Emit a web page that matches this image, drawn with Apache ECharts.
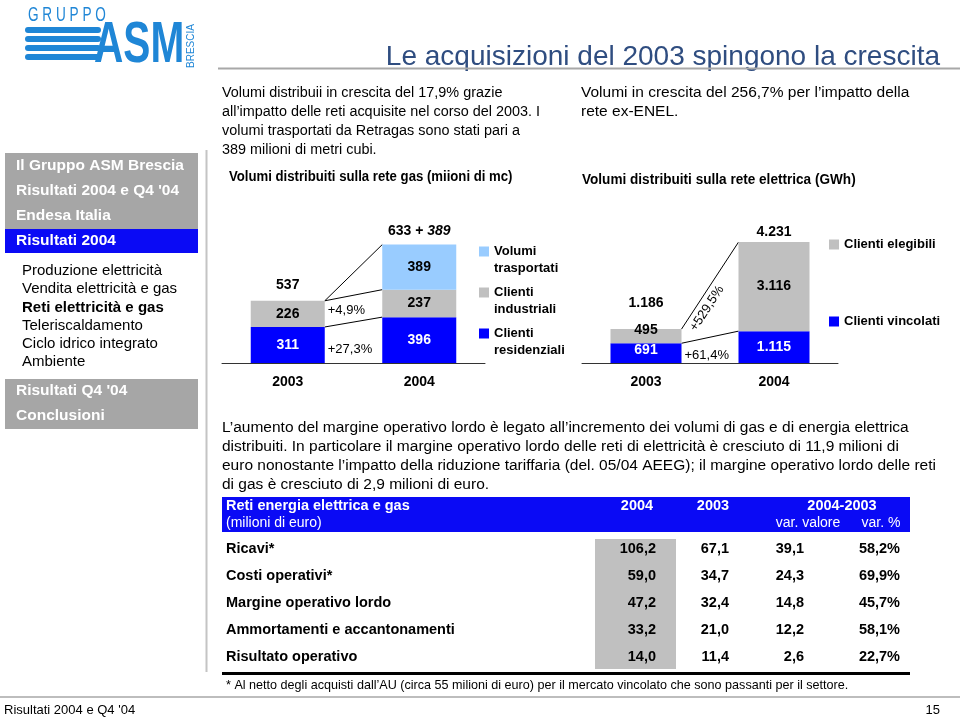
<!DOCTYPE html>
<html>
<head>
<meta charset="utf-8">
<script src="https://cdn.jsdelivr.net/npm/echarts@6/dist/echarts.min.js"></script>
<style>html,body{margin:0;padding:0;background:#fff}#chart{width:960px;height:717px}</style>
</head>
<body>
<div id="chart"></div>
<script>
// ---------- data ----------
const gasCategories = ['2003', '2004'];
const gasResidenziali = [311, 396];
const gasIndustriali = [226, 237];
const gasTrasportati = [null, 389];
const gasGrowth = ['+4,9%', '+27,3%'];

const elecCategories = ['2003', '2004'];
const elecVincolati = [691, 1115];
const elecElegibili = [495, 3116];
const elecGrowth = ['+529,5%', '+61,4%'];

const tableRows = ['Ricavi*', 'Costi operativi*', 'Margine operativo lordo', 'Ammortamenti e accantonamenti', 'Risultato operativo'];
const table2004 = [106.2, 59.0, 47.2, 33.2, 14.0];
const table2003 = [67.1, 34.7, 32.4, 21.0, 11.4];
const tableVarVal = [39.1, 24.3, 14.8, 12.2, 2.6];
const tableVarPct = [58.2, 69.9, 45.7, 58.1, 22.7];

const navTop = ['Il Gruppo ASM Brescia', 'Risultati 2004 e Q4 \'04', 'Endesa Italia'];
const navActive = 'Risultati 2004';
const navItems = ['Produzione elettricità', 'Vendita elettricità e gas', 'Reti elettricità e gas', 'Teleriscaldamento', 'Ciclo idrico integrato', 'Ambiente'];
const navBottom = ['Risultati Q4 \'04', 'Conclusioni'];

// ---------- style ----------
const A = "'Liberation Sans',Arial,sans-serif";
const N = A;
const BLUE = '#0000ff', GRAY = '#c0c0c0', LBLUE = '#99ccff';
const fmtK = v => String(v).replace(/\B(?=(\d{3})+(?!\d))/g, '.');
const fmtD = v => v.toFixed(1).replace('.', ',');

const chart = echarts.init(document.getElementById('chart'));

const segLabel = (color) => ({
  show: true, position: 'inside', color: color, fontFamily: A, fontWeight: 'bold', fontSize: 14,
  formatter: p => (p.value == null ? '' : fmtK(p.value))
});

const option = {
  animation: false,
  grid: [
    { left: 222, top: 224, width: 263, height: 139 },
    { left: 582, top: 223, width: 256, height: 140 }
  ],
  xAxis: [
    { type: 'category', gridIndex: 0, data: gasCategories,
      axisLine: { lineStyle: { color: '#333' } }, axisTick: { lineStyle: { color: '#333' }, length: 5 },
      axisLabel: { color: '#000', fontFamily: A, fontWeight: 'bold', fontSize: 14, margin: 12 } },
    { type: 'category', gridIndex: 1, data: elecCategories,
      axisLine: { lineStyle: { color: '#333' } }, axisTick: { lineStyle: { color: '#333' }, length: 5 },
      axisLabel: { color: '#000', fontFamily: A, fontWeight: 'bold', fontSize: 14, margin: 12 } }
  ],
  yAxis: [
    { type: 'value', gridIndex: 0, min: 0, max: 1200, show: false },
    { type: 'value', gridIndex: 1, min: 0, max: 4900, show: false }
  ],
  legend: [
    { data: ['Volumi trasportati', 'Clienti industriali', 'Clienti residenziali'],
      orient: 'vertical', left: 479, top: 226, itemWidth: 10, itemHeight: 10, itemGap: -10,
      icon: 'rect', selectedMode: false, padding: 0,
      formatter: n => ' \n' + n.replace(' ', '\n'),
      textStyle: { fontFamily: N, fontWeight: 'bold', fontSize: 13, lineHeight: 17, color: '#000' } },
    { data: ['Clienti elegibili', 'Clienti vincolati'],
      orient: 'vertical', left: 829, top: 238, itemWidth: 10, itemHeight: 10, itemGap: 64,
      icon: 'rect', selectedMode: false, padding: 0,
      textStyle: { fontFamily: N, fontWeight: 'bold', fontSize: 13, color: '#000' } }
  ],
  series: [
    { name: 'Clienti residenziali', type: 'bar', stack: 'gas', xAxisIndex: 0, yAxisIndex: 0, barWidth: 74,
      data: gasResidenziali, itemStyle: { color: BLUE }, label: segLabel('#fff') },
    { name: 'Clienti industriali', type: 'bar', stack: 'gas', xAxisIndex: 0, yAxisIndex: 0, barWidth: 74,
      data: gasIndustriali, itemStyle: { color: GRAY }, label: segLabel('#000') },
    { name: 'Volumi trasportati', type: 'bar', stack: 'gas', xAxisIndex: 0, yAxisIndex: 0, barWidth: 74,
      data: gasTrasportati, itemStyle: { color: LBLUE }, label: segLabel('#000') },
    { name: 'Clienti vincolati', type: 'bar', stack: 'el', xAxisIndex: 1, yAxisIndex: 1, barWidth: 71,
      data: elecVincolati.map((v, i) => i === 0 ? { value: v, label: { offset: [0, -3] } } : v),
      itemStyle: { color: BLUE }, label: segLabel('#fff') },
    { name: 'Clienti elegibili', type: 'bar', stack: 'el', xAxisIndex: 1, yAxisIndex: 1, barWidth: 71,
      data: elecElegibili.map((v, i) => i === 0 ? { value: v, label: { offset: [0, -6] } } : v),
      itemStyle: { color: GRAY }, label: segLabel('#000') }
  ]
};
chart.setOption(option);

// ---------- graphics ----------
const G = [];
const rect = (x, y, w, h, fill) => G.push({ type: 'rect', shape: { x, y, width: w, height: h }, style: { fill }, silent: true });
const line = (x1, y1, x2, y2, stroke, lw) => G.push({ type: 'line', shape: { x1, y1, x2, y2 }, style: { stroke, lineWidth: lw || 1 }, silent: true });
const text = (t, x, y, font, fill, align, extra) => G.push(Object.assign({ type: 'text', x, y,
  style: { text: t, font, fill: fill || '#000', textAlign: align || 'left', align: align || 'left', textVerticalAlign: 'middle', verticalAlign: 'middle' }, silent: true }, extra || {}));

// logo
const LC = '#1f86d6';
text('G R U P P O', 28, 15, '20px ' + A, LC, 'left', { scaleX: 0.68 });
[27, 36, 45, 54].forEach(y => G.push({ type: 'rect', shape: { x: 25, y: y, width: 76, height: 6, r: 3 }, style: { fill: LC }, silent: true }));
text('ASM', 94, 46, 'bold 58px ' + A, LC, 'left', { scaleX: 0.7 });
text('BRESCIA', 191, 46, '10px ' + A, LC, 'center', { rotation: Math.PI / 2 });

// title
text('Le acquisizioni del 2003 spingono la crescita', 940, 57, '28px ' + N, '#2f4d80', 'right');
line(218, 68.5, 960, 68.5, '#a8a8a8', 2);

// left nav
rect(5, 153, 193, 76, '#a6a6a6');
rect(5, 229, 193, 24, '#0a0af5');
rect(5, 379, 193, 50, '#a6a6a6');
navTop.forEach((t, i) => text(t, 16, [166, 191, 216][i], 'bold 15.5px ' + A, '#fff'));
text(navActive, 16, 241, 'bold 15.5px ' + A, '#fff');
navItems.forEach((t, i) => text(t, 22, 271 + i * 18.2, (t === 'Reti elettricità e gas' ? 'bold ' : '') + '15px ' + A, '#000'));
navBottom.forEach((t, i) => text(t, 16, 391 + i * 25, 'bold 15.5px ' + A, '#fff'));
line(206.5, 150, 206.5, 672, '#c4c4c4', 2);

// paragraphs
['Volumi distribuii in crescita del 17,9% grazie',
 'all’impatto delle reti acquisite nel corso del 2003. I',
 'volumi trasportati da Retragas sono stati pari a',
 '389 milioni di metri cubi.'].forEach((t, i) => text(t, 222, 93 + i * 19, '15.5px ' + N, '#000', 'left', { scaleX: 0.93 }));
['Volumi in crescita del 256,7% per l’impatto della', 'rete ex-ENEL.'].forEach((t, i) => text(t, 581, 93 + i * 19, '15.5px ' + N));
text('Volumi distribuiti sulla rete gas (miioni di mc)', 229, 177, 'bold 14px ' + N, '#000', 'left', { scaleX: 0.94 });
text('Volumi distribuiti sulla rete elettrica (GWh)', 582, 180, 'bold 14px ' + N, '#000', 'left', { scaleX: 0.97 });

['L’aumento del margine operativo lordo è legato all’incremento dei volumi di gas e di energia elettrica',
 'distribuiti. In particolare il margine operativo lordo delle reti di elettricità è cresciuto di 11,9 milioni di',
 'euro nonostante l’impatto della riduzione tariffaria (del. 05/04 AEEG); il margine operativo lordo delle reti',
 'di gas è cresciuto di 2,9 milioni di euro.'].forEach((t, i) => text(t, 222, 428 + i * 19, '15.5px ' + N));

// table
rect(222, 497, 688, 35, '#0a0af5');
text('Reti energia elettrica e gas', 226, 506, 'bold 14.5px ' + N, '#fff');
text('(milioni di euro)', 226, 523, '14px ' + N, '#fff');
text('2004', 637, 506, 'bold 14.5px ' + N, '#fff', 'center');
text('2003', 713, 506, 'bold 14.5px ' + N, '#fff', 'center');
text('2004-2003', 842, 506, 'bold 14.5px ' + N, '#fff', 'center');
text('var. valore', 808, 523, '14px ' + N, '#fff', 'center');
text('var. %', 881, 523, '14px ' + N, '#fff', 'center');
rect(595, 539, 81, 130, '#c0c0c0');
tableRows.forEach((t, i) => {
  const y = 549 + i * 27;
  const f = 'bold 14.5px ' + N;
  text(t, 226, y, f);
  text(fmtD(table2004[i]), 656, y, f, '#000', 'right');
  text(fmtD(table2003[i]), 729, y, f, '#000', 'right');
  text(fmtD(tableVarVal[i]), 804, y, f, '#000', 'right');
  text(fmtD(tableVarPct[i]) + '%', 900, y, f, '#000', 'right');
});
line(222, 673.5, 910, 673.5, '#000', 3);
text('* Al netto degli acquisti dall’AU (circa 55 milioni di euro) per il mercato vincolato che sono passanti per il settore.', 226, 686, '12.6px ' + N);
line(0, 697, 960, 697, '#bdbdbd', 2);
text('Risultati 2004 e Q4 \'04', 4, 710, '13px ' + N);
text('15', 940, 710, '13px ' + N, '#000', 'right');

// chart annotations computed from the axes
const px = (g, cat, v) => chart.convertToPixel({ gridIndex: g }, [cat, v]);
const NUM = 'bold 14px ' + A;
// gas
{
  const bw = 74;
  const tot = gasCategories.map((c, i) => gasResidenziali[i] + gasIndustriali[i] + (gasTrasportati[i] || 0));
  const ri = gasCategories.map((c, i) => gasResidenziali[i] + gasIndustriali[i]);
  const a = px(0, gasCategories[0], 0), b = px(0, gasCategories[1], 0);
  const xr = a[0] + bw / 2, xl = b[0] - bw / 2;
  const y = (c, v) => px(0, c, v)[1];
  line(xr, y('2003', tot[0]), xl, y('2004', tot[1]), '#000', 1);
  line(xr, y('2003', ri[0]), xl, y('2004', ri[1]), '#000', 1);
  line(xr, y('2003', gasResidenziali[0]), xl, y('2004', gasResidenziali[1]), '#000', 1);
  text(fmtK(tot[0]), a[0], y('2003', tot[0]) - 16, NUM, '#000', 'center');
  G.push({ type: 'text', x: b[0], y: y('2004', tot[1]) - 13, silent: true,
    style: { text: '{a|' + fmtK(ri[1]) + ' + }{b|' + fmtK(gasTrasportati[1]) + '}', textAlign: 'center', align: 'center', textVerticalAlign: 'middle', verticalAlign: 'middle',
      rich: { a: { font: NUM, fill: '#000' }, b: { font: 'italic bold 14px ' + A, fill: '#000' } } } });
  const midInd = (y('2003', gasResidenziali[0]) + y('2003', ri[0])) / 2;
  const midRes = (y('2003', 0) + y('2003', gasResidenziali[0])) / 2;
  text(gasGrowth[0], xr + 3, midInd - 3, '13px ' + A, '#000');
  text(gasGrowth[1], xr + 3, midRes + 4, '13px ' + A, '#000');
}
// electricity
{
  const bw = 71;
  const tot = elecCategories.map((c, i) => elecVincolati[i] + elecElegibili[i]);
  const a = px(1, elecCategories[0], 0), b = px(1, elecCategories[1], 0);
  const xr = a[0] + bw / 2, xl = b[0] - bw / 2;
  const y = (c, v) => px(1, c, v)[1];
  const p1 = [xr, y('2003', tot[0])], p2 = [xl, y('2004', tot[1])];
  line(p1[0], p1[1], p2[0], p2[1], '#000', 1);
  line(xr, y('2003', elecVincolati[0]), xl, y('2004', elecVincolati[1]), '#000', 1);
  text(fmtK(tot[0]), a[0], y('2003', tot[0]) - 26, NUM, '#000', 'center');
  text(fmtK(tot[1]), b[0], y('2004', tot[1]) - 10, NUM, '#000', 'center');
  const ang = Math.atan2(p1[1] - p2[1], p2[0] - p1[0]);
  const t = 0.3;
  const cx = p1[0] + (p2[0] - p1[0]) * t + Math.sin(ang) * 10;
  const cy = p1[1] + (p2[1] - p1[1]) * t + Math.cos(ang) * 10;
  text(elecGrowth[0], cx, cy, '13px ' + A, '#000', 'center', { rotation: ang });
  const midV = (y('2003', 0) + y('2003', elecVincolati[0])) / 2;
  text(elecGrowth[1], xr + 3, midV + 2, '13px ' + A, '#000');
}

chart.setOption({ graphic: G });
</script>
</body>
</html>
